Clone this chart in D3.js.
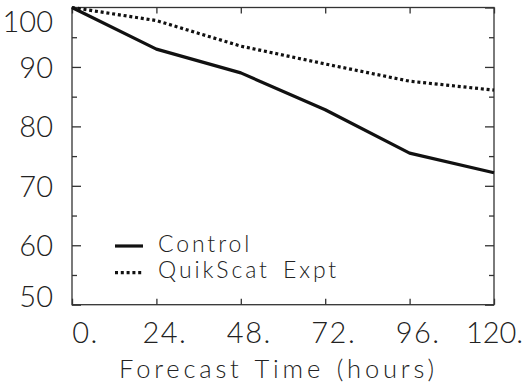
<!DOCTYPE html>
<html><head><meta charset="utf-8">
<script src="https://cdn.jsdelivr.net/npm/d3@7"></script>
<style>
body{margin:0;background:#fff;}
text{font-family:"Lato","DejaVu Sans",sans-serif;font-weight:300;fill:#222;}
</style></head>
<body><svg id="c" width="525" height="388"></svg>
<script>
const hours = [0, 24, 48, 72, 96, 120];
const control = [100, 93.0, 89.0, 82.8, 75.5, 72.2];
const quikscat = [100, 97.8, 93.5, 90.5, 87.6, 86.1];
const seriesNames = ["Control", "QuikScat Expt"];
const xTickLabels = ["0.", "24.", "48.", "72.", "96.", "120."];
const yTicks = [50, 60, 70, 80, 90, 100];
const yMinor = [55, 65, 75, 85, 95];

const svg = d3.select("#c");
const L = 72, R = 494, T = 7.5, B = 304.7;
const x = d3.scaleLinear().domain([0, 120]).range([L, R]);
const y = d3.scaleLinear().domain([50, 100]).range([B, T]);
const axisCol = "#333";

// frame
svg.append("rect").attr("x", L).attr("y", T).attr("width", R - L).attr("height", B - T)
  .attr("fill", "none").attr("stroke", axisCol).attr("stroke-width", 1.3);

// left axis
const gl = svg.append("g").attr("transform", `translate(${L},0)`)
  .call(d3.axisLeft(y).tickValues(yTicks).tickSize(-9).tickPadding(19).tickFormat(d3.format("d")));
gl.select(".domain").remove();
gl.selectAll(".tick line").attr("stroke", axisCol).attr("stroke-width", 1.3);
gl.selectAll(".tick text").attr("font-size", 29).attr("font-family", null).attr("fill", "#222")
  .attr("dy", d => d === 100 ? "0.84em" : d === 50 ? "0.05em" : "0.36em");
const glm = svg.append("g").attr("transform", `translate(${L},0)`)
  .call(d3.axisLeft(y).tickValues(yMinor).tickSize(-5).tickFormat(""));
glm.select(".domain").remove();
glm.selectAll(".tick line").attr("stroke", axisCol).attr("stroke-width", 1.3);

// right axis
const gr = svg.append("g").attr("transform", `translate(${R},0)`)
  .call(d3.axisRight(y).tickValues(yTicks.concat(yMinor)).tickSize(0).tickFormat(""));
gr.select(".domain").remove();
gr.selectAll(".tick line").attr("stroke", axisCol).attr("stroke-width", 1.3)
  .attr("x2", d => yTicks.includes(d) ? -9 : -5);

// bottom axis
const gb = svg.append("g").attr("transform", `translate(0,${B})`)
  .call(d3.axisBottom(x).tickValues(hours).tickSize(-6).tickPadding(18).tickFormat((d, i) => xTickLabels[i]));
gb.select(".domain").remove();
gb.selectAll(".tick line").attr("stroke", axisCol).attr("stroke-width", 1.3);
gb.selectAll(".tick text").attr("font-size", 29).attr("font-family", null).attr("fill", "#222")
  .attr("letter-spacing", d => d === 120 ? 0 : 1.5)
  .attr("dx", d => d === 120 ? 0 : d === 0 ? 13 : 8);

// top axis
const gt = svg.append("g").attr("transform", `translate(0,${T})`)
  .call(d3.axisTop(x).tickValues(hours).tickSize(-6).tickFormat(""));
gt.select(".domain").remove();
gt.selectAll(".tick line").attr("stroke", axisCol).attr("stroke-width", 1.3);

// x title
svg.append("text").attr("x", 278.5).attr("y", 378.3).attr("text-anchor", "middle")
  .attr("font-size", 25.5).attr("letter-spacing", 3.8).attr("word-spacing", 2)
  .text("Forecast Time (hours)");

// lines
const line = d3.line().x((d, i) => x(hours[i])).y(d => y(d));
svg.append("path").datum(control).attr("d", line).attr("fill", "none")
  .attr("stroke", "#111").attr("stroke-width", 3.2).attr("stroke-linejoin", "round");
svg.append("path").datum(quikscat).attr("d", line).attr("fill", "none")
  .attr("stroke", "#111").attr("stroke-width", 3.2).attr("stroke-dasharray", "3,2.8");

// legend
const legY = [246, 272.7];
const dashes = [null, "3,2.8"];
seriesNames.forEach((n, i) => {
  svg.append("line").attr("x1", 115).attr("x2", 143).attr("y1", legY[i]).attr("y2", legY[i])
    .attr("stroke", "#111").attr("stroke-width", 3.2).attr("stroke-dasharray", dashes[i]);
  svg.append("text").attr("x", 158).attr("y", legY[i] + 5.7).attr("font-size", 23)
    .attr("letter-spacing", 2.9).attr("word-spacing", 4).text(n);
});
</script></body></html>
